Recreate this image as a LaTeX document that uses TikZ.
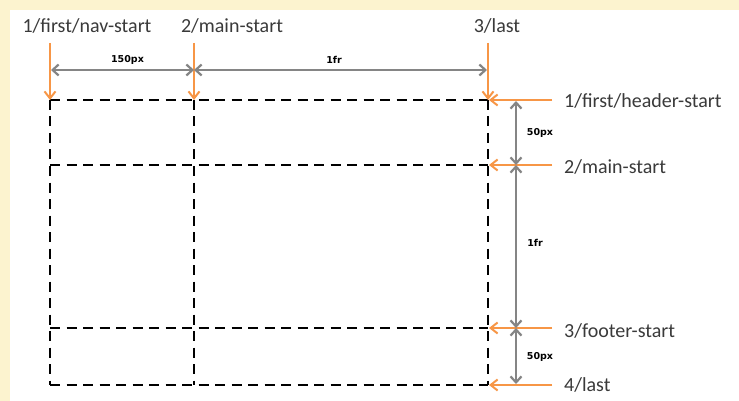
\documentclass[tikz,border=0pt]{standalone}
\usepackage{fontspec}
\setmainfont{Carlito}
\newfontfamily\dimfont{DejaVu Sans}
\usetikzlibrary{arrows.meta}
\definecolor{bgyellow}{HTML}{FCF3CF}
\definecolor{arrorange}{HTML}{F79646}
\definecolor{dimgray}{HTML}{858585}
\definecolor{txtgray}{HTML}{3A3A3A}
\begin{document}
\begin{tikzpicture}[x=1pt,y=-1pt,
  gridline/.style={black,line width=2.8pt,dash pattern=on 10pt off 6.5pt},
  orangearrow/.style={arrorange,line width=2pt,-{Straight Barb[length=7pt,width=11pt]}},
  dimarrow/.style={dimgray,line width=2.2pt,{Straight Barb[length=6pt,width=11pt]}-{Straight Barb[length=6pt,width=11pt]}},
  linelabel/.style={text=txtgray,font=\fontsize{20}{24}\selectfont,inner sep=0pt},
  dimlabel/.style={text=black,font=\dimfont\bfseries\fontsize{9.5}{11}\selectfont,inner sep=0pt}]
\fill[bgyellow] (0,0) rectangle (739,401);
\fill[white] (10,10) rectangle (739,401);
\useasboundingbox (0,0) rectangle (739,401);
% grid corners
\foreach \c/\x in {1/50,2/194,3/488}{
  \foreach \r/\y in {1/100,2/165,3/328,4/385}{
    \coordinate (g\r\c) at (\x,\y);
  }
}
% grid lines
\foreach \r in {1,2,3,4}{\draw[gridline] (g\r1) -- (g\r3);}
\foreach \c in {1,2,3}{\draw[gridline] (g1\c) -- (g4\c);}
% top labels
\node[linelabel,anchor=base] (tl1) at (87,33) {1/first/nav-start};
\node[linelabel,anchor=base] (tl2) at (232,33) {2/main-start};
\node[linelabel,anchor=base] (tl3) at (497,33) {3/last};
\coordinate (ta1) at (50,43);
\coordinate (ta2) at (194,43);
\coordinate (ta3) at (488,43);
\draw[orangearrow] (ta1) -- (g11);
\draw[orangearrow] (ta2) -- (g12);
\draw[orangearrow] (ta3) -- (g13);
% top dimensions
\coordinate (td1) at (51,70);
\coordinate (td2) at (194,70);
\coordinate (td3) at (487,70);
\draw[dimarrow] (td1) -- (td2);
\draw[dimarrow] (td2) -- (td3);
\node[dimlabel] (tdl1) at (127.5,60) {150px};
\node[dimlabel] (tdl2) at (334,60) {1fr};
% right labels
\node[linelabel,anchor=base west] (rl1) at (564,108) {1/first/header-start};
\node[linelabel,anchor=base west] (rl2) at (564,173) {2/main-start};
\node[linelabel,anchor=base west] (rl3) at (564,337) {3/footer-start};
\node[linelabel,anchor=base west] (rl4) at (564,391) {4/last};
\coordinate (ra1) at (552,100);
\coordinate (ra2) at (552,165);
\coordinate (ra3) at (552,328);
\coordinate (ra4) at (552,385);
\coordinate (rg1) at (489,100);
\coordinate (rg2) at (489,165);
\coordinate (rg3) at (489,328);
\coordinate (rg4) at (489,385);
\foreach \i in {1,2,3,4}{\draw[orangearrow] (ra\i) -- (rg\i);}
% right dimensions
\coordinate (rd1) at (516,101);
\coordinate (rd2) at (516,165);
\coordinate (rd3) at (516,328);
\coordinate (rd4) at (516,384);
\draw[dimarrow] (rd1) -- (rd2);
\draw[dimarrow] (rd2) -- (rd3);
\draw[dimarrow] (rd3) -- (rd4);
\node[dimlabel] (rdl1) at (540,133) {50px};
\node[dimlabel] (rdl2) at (535,243) {1fr};
\node[dimlabel] (rdl3) at (540,357) {50px};
\end{tikzpicture}
\end{document}
